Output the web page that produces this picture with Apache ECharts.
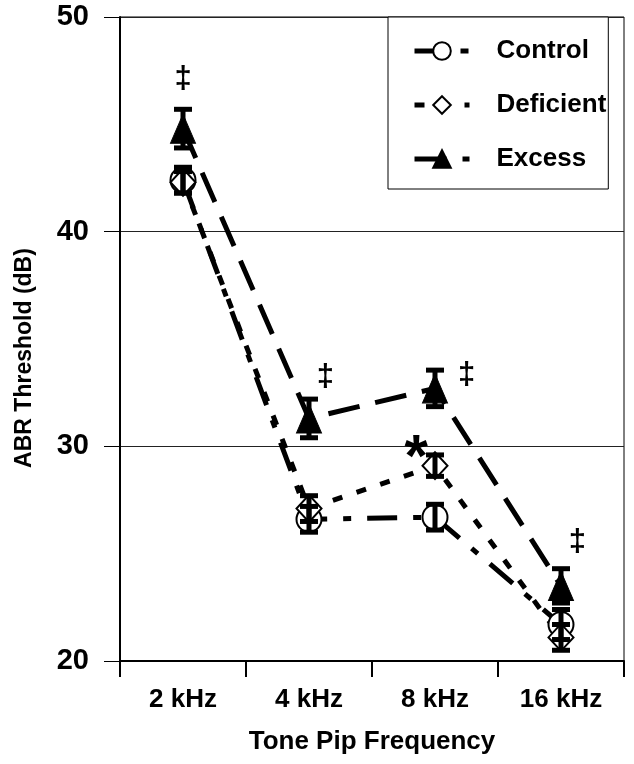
<!DOCTYPE html>
<html><head><meta charset="utf-8">
<script src="https://cdn.jsdelivr.net/npm/echarts@6/dist/echarts.min.js"></script>
<style>html,body{margin:0;padding:0;background:#fff}#c{width:634px;height:764px}</style>
</head><body><div id="c"></div>
<script>
const categories = ['2 kHz', '4 kHz', '8 kHz', '16 kHz'];
const controlMean = [42.4, 26.6, 26.7, 21.7];
const controlErr = [0.6, 0.6, 0.6, 0.7];
const deficientMean = [42.3, 27.1, 29.1, 21.1];
const deficientErr = [0.5, 0.6, 0.5, 0.6];
const excessMean = [44.8, 31.3, 32.7, 23.5];
const excessErr = [0.9, 0.9, 0.85, 0.8];
const annotX = [0, 1.13, 2.25, 3.13, 1.85];
const annotY = [47.1, 33.2, 33.3, 25.5, 30.0];
const annotText = ['‡', '‡', '‡', '‡', '*'];
const yMin = 20, yMax = 50, yStep = 10;

const FONT = '"Liberation Sans", Arial, sans-serif';

function errData(mean, err) {
  return mean.map((m, i) => [i, m - err[i], m + err[i]]);
}
function errSeries(name, mean, err) {
  return {
    type: 'custom', name: name + ' err', z: 4, silent: true,
    data: errData(mean, err),
    renderItem: function (params, api) {
      const i = api.value(0);
      const lo = api.coord([i, api.value(1)]);
      const hi = api.coord([i, api.value(2)]);
      const cw = 9;
      const st = { stroke: '#000', lineWidth: 5 };
      return { type: 'group', children: [
        { type: 'line', shape: { x1: lo[0], y1: lo[1], x2: hi[0], y2: hi[1] }, style: st },
        { type: 'line', shape: { x1: hi[0] - cw, y1: hi[1], x2: hi[0] + cw, y2: hi[1] }, style: st },
        { type: 'line', shape: { x1: lo[0] - cw, y1: lo[1], x2: lo[0] + cw, y2: lo[1] }, style: st }
      ]};
    }
  };
}

const chart = echarts.init(document.getElementById('c'), null, { renderer: 'canvas' });
chart.setOption({
  animation: false,
  backgroundColor: '#fff',
  textStyle: { fontFamily: FONT },
  grid: { left: 120, right: 10, top: 17, bottom: 103, show: true, borderColor: '#000', borderWidth: 1 },
  legend: {
    data: ['Control', 'Deficient', 'Excess'],
    orient: 'vertical', left: 388, top: 17,
    backgroundColor: '#fff',
    borderColor: '#000', borderWidth: 1,
    padding: [21, 2, 17, 24],
    itemWidth: 55, itemHeight: 22, itemGap: 28,
    lineStyle: { width: 5 },
    textStyle: { fontFamily: FONT, fontWeight: 'bold', fontSize: 26, color: '#000', padding: [0, 0, 0, 22] }
  },
  xAxis: [{
    type: 'category', data: categories, boundaryGap: true,
    axisLine: { lineStyle: { color: '#000', width: 2 } },
    axisTick: { show: true, length: 16, lineStyle: { color: '#000', width: 2 }, alignWithLabel: false },
    axisLabel: { fontFamily: FONT, fontWeight: 'bold', fontSize: 26, color: '#000', margin: 26 },
    name: 'Tone Pip Frequency', nameLocation: 'middle', nameGap: 68,
    nameTextStyle: { fontFamily: FONT, fontWeight: 'bold', fontSize: 26, color: '#000' }
  }, {
    type: 'value', min: -0.5, max: 3.5, show: false
  }],
  yAxis: {
    type: 'value', min: yMin, max: yMax, interval: yStep,
    axisLine: { show: true, onZero: false, lineStyle: { color: '#000', width: 2 } },
    axisTick: { show: true, length: 16, lineStyle: { color: '#000', width: 1 } },
    axisLabel: { fontFamily: FONT, fontWeight: 'bold', fontSize: 29, color: '#000', margin: 31 },
    splitLine: { show: true, lineStyle: { color: '#222', width: 1 } },
    name: 'ABR Threshold (dB)', nameLocation: 'middle', nameGap: 84, nameRotate: 90,
    nameTextStyle: { fontFamily: FONT, fontWeight: 'bold', fontSize: 23, color: '#000', padding: [0, 38, 0, 0] }
  },
  series: [
    {
      name: 'Control', type: 'line', data: controlMean, z: 3,
      symbol: 'circle', symbolSize: 25,
      itemStyle: { color: '#fff', borderColor: '#000', borderWidth: 2 },
      lineStyle: { color: '#000', width: 5, type: [30, 16, 8, 16] }
    },
    {
      name: 'Deficient', type: 'line', data: deficientMean, z: 3,
      symbol: 'diamond', symbolSize: [25, 27],
      itemStyle: { color: '#fff', borderColor: '#000', borderWidth: 2 },
      lineStyle: { color: '#000', width: 5, type: [10, 15] }
    },
    {
      name: 'Excess', type: 'line', data: excessMean, z: 3,
      symbol: 'triangle', symbolSize: [25, 29],
      itemStyle: { color: '#000', borderColor: '#000', borderWidth: 1 },
      lineStyle: { color: '#000', width: 5, type: [32, 16] }
    },
    errSeries('Control', controlMean, controlErr),
    errSeries('Deficient', deficientMean, deficientErr),
    errSeries('Excess', excessMean, excessErr),
    {
      type: 'custom', xAxisIndex: 1, yAxisIndex: 0, z: 5, silent: true,
      data: annotX.map((x, i) => [x, annotY[i], i]),
      renderItem: function (params, api) {
        const p = api.coord([api.value(0), api.value(1)]);
        const t = annotText[api.value(2)];
        const isStar = t === '*';
        return { type: 'text', x: p[0], y: p[1] + (isStar ? 13 : 0), style: {
          text: t, fill: '#000', align: 'center', verticalAlign: 'middle',
          font: (isStar ? 'bold 60px ' : 'bold 31px ') + FONT
        }};
      }
    }
  ]
});
</script></body></html>
